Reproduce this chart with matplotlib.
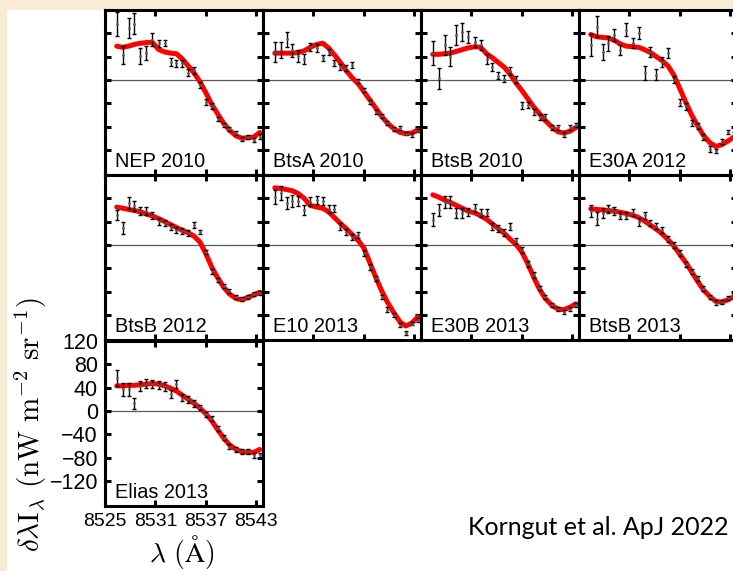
import numpy as np
import matplotlib
matplotlib.use("Agg")
import matplotlib.pyplot as plt
from matplotlib.patches import Rectangle

plt.rcParams['mathtext.fontset'] = 'cm'

# wavelength grid of the measured points (Angstrom)
wave = [8526.4, 8527.1, 8527.8, 8528.5, 8529.2, 8529.9, 8530.6, 8531.4, 8532.1,
        8532.8, 8533.5, 8534.2, 8534.9, 8535.6, 8536.3, 8537.0, 8537.7, 8538.4,
        8539.1, 8539.8, 8540.6, 8541.3, 8542.0, 8542.7, 8543.4]

names = ["NEP 2010", "BtsA 2010", "BtsB 2010", "E30A 2012",
         "BtsB 2012", "E10 2013", "E30B 2013", "BtsB 2013",
         "Elias 2013"]

# measured points (nW m^-2 sr^-1)
pts_nep10 = [96, 43, 89, 96, 41, 46, 69, 63, 63, 31, 29, 29, 12, 17, -9, -38, -45, -67, -77, -84, -91, -101, -98, -103, -97]
pts_btsa10 = [48, 51, 70, 51, 41, 36, 57, 55, 38, 48, 29, 22, 20, 26, -2, -17, -38, -55, -62, -74, -84, -82, -92, -94, -87]
pts_btsb10 = [46, 3, 60, 40, 77, 82, 74, 65, 60, 36, 22, 7, 2, 15, 0, -43, -43, -55, -63, -63, -81, -81, -94, -82, -77]
pts_e30a12 = [60, 91, 48, 63, 77, 51, 86, 63, 81, 12, 48, 9, 31, 46, 0, -39, -45, -74, -79, -98, -118, -122, -106, -89, -85]
pts_btsb12 = [51, 29, 72, 67, 58, 58, 50, 41, 38, 31, 26, 24, 21, 34, 22, -12, -45, -60, -70, -79, -89, -93, -89, -84, -82]
pts_e10_13 = [82, 89, 72, 75, 75, 60, 74, 77, 75, 62, 62, 31, 22, 14, 17, -14, -38, -57, -89, -111, -120, -137, -151, -135, -129]
pts_e30b13 = [43, 60, 74, 74, 55, 55, 57, 63, 55, 55, 31, 29, 22, 31, 7, -9, -33, -51, -74, -89, -103, -110, -115, -110, -103]
pts_btsb13 = [58, 45, 55, 62, 58, 50, 50, 55, 39, 51, 38, 33, 26, 10, 0, -14, -33, -46, -57, -75, -89, -99, -98, -91, -88]
pts_elias13 = [57, 37, 37, 13, 43, 47, 46, 44, 42, 29, 46, 23, 20, 13, 6, -6, -13, -30, -46, -61, -66, -69, -69, -76, -76]

# 1-sigma errors
err_nep10 = [20, 15, 17, 18, 13, 12, 11, 6, 5, 7, 6, 6, 6, 6, 5, 5, 5, 4, 4, 4, 4, 4, 4, 4, 4]
err_btsa10 = [17, 14, 13, 11, 11, 8, 7, 7, 5, 5, 5, 5, 5, 5, 4, 4, 4, 4, 4, 4, 3, 3, 3, 3, 3]
err_btsb10 = [20, 18, 17, 16, 17, 16, 10, 9, 8, 8, 7, 6, 6, 7, 6, 6, 5, 5, 5, 5, 4, 4, 4, 4, 4]
err_e30a12 = [19, 18, 14, 13, 10, 9, 11, 9, 10, 12, 9, 9, 9, 8, 6, 6, 6, 5, 5, 5, 5, 4, 4, 4, 4]
err_btsb12 = [9, 11, 10, 9, 7, 7, 6, 6, 5, 5, 5, 5, 5, 5, 4, 4, 4, 3, 3, 3, 3, 3, 3, 3, 3]
err_e10_13 = [12, 12, 11, 10, 9, 9, 8, 7, 7, 7, 6, 6, 5, 5, 5, 5, 5, 4, 4, 4, 4, 4, 3, 3, 3]
err_e30b13 = [11, 11, 10, 10, 8, 8, 7, 7, 7, 6, 6, 6, 6, 6, 5, 5, 5, 5, 4, 4, 4, 4, 4, 4, 4]
err_btsb13 = [10, 11, 8, 7, 7, 6, 6, 6, 7, 6, 5, 5, 5, 5, 5, 5, 4, 4, 4, 4, 4, 4, 4, 4, 4]
err_elias13 = [14, 11, 11, 9, 8, 8, 7, 7, 7, 7, 7, 6, 6, 6, 5, 5, 5, 5, 4, 4, 4, 4, 4, 4, 4]

# model fit (red curve)
fit_nep10 = [58, 56, 58, 61, 63, 64, 65, 52, 48, 46, 45, 36, 24, 12, -3, -22, -42, -58, -74, -86, -96, -100, -99, -98, -90]
fit_btsa10 = [46, 46, 46, 46, 47, 50, 56, 61, 63, 55, 43, 30, 16, 4, -6, -20, -34, -48, -62, -74, -84, -90, -92, -91, -86]
fit_btsb10 = [44, 44, 45, 46, 49, 52, 55, 57, 56, 45, 38, 30, 22, 10, -5, -18, -32, -46, -58, -70, -81, -89, -91, -88, -82]
fit_e30a12 = [78, 74, 73, 72, 68, 62, 58, 57, 56, 52, 47, 40, 33, 24, 8, -15, -38, -60, -78, -95, -108, -114, -111, -105, -98]
fit_btsb12 = [65, 63, 61, 59, 57, 53, 50, 45, 40, 35, 30, 25, 21, 15, 5, -15, -38, -56, -72, -84, -92, -94, -90, -86, -81]
fit_e10_13 = [98, 97, 95, 93, 88, 80, 68, 65, 63, 57, 47, 37, 28, 18, 8, -5, -30, -55, -78, -98, -117, -132, -139, -134, -124]
fit_e30b13 = [86, 82, 77, 73, 68, 63, 58, 55, 50, 44, 36, 28, 20, 10, 1, -12, -32, -55, -76, -92, -104, -110, -111, -107, -101]
fit_btsb13 = [62, 61, 60, 59, 58, 56, 54, 51, 47, 41, 34, 27, 19, 9, -2, -16, -30, -46, -62, -77, -89, -97, -98, -94, -89]
fit_elias13 = [43, 43, 44, 44, 45, 46, 47, 46, 43, 39, 34, 27, 20, 13, 5, -5, -17, -32, -46, -58, -66, -70, -71, -71, -66]

points = [pts_nep10, pts_btsa10, pts_btsb10, pts_e30a12, pts_btsb12,
          pts_e10_13, pts_e30b13, pts_btsb13, pts_elias13]
errors = [err_nep10, err_btsa10, err_btsb10, err_e30a12, err_btsb12,
          err_e10_13, err_e30b13, err_btsb13, err_elias13]
fits = [fit_nep10, fit_btsa10, fit_btsb10, fit_e30a12, fit_btsb12,
        fit_e10_13, fit_e30b13, fit_btsb13, fit_elias13]

yticks = [-120, -80, -40, 0, 40, 80, 120]
xticks = [8525, 8531, 8537, 8543]

W, H = 733, 571
fig = plt.figure(figsize=(W / 100, H / 100), dpi=100)
fig.patch.set_facecolor('white')
# slide background strips
fig.add_artist(Rectangle((0, 0), 6 / W, 1, transform=fig.transFigure, color='#f9ecd5', zorder=0))
fig.add_artist(Rectangle((0, 1 - 9 / H), 1, 9 / H, transform=fig.transFigure, color='#f9ecd5', zorder=0))

col_left = [105, 263, 421, 579]
row_top = [10, 175, 341]
pw, ph = 158, 165

for k, name in enumerate(names):
    r, c = divmod(k, 4)
    ax = fig.add_axes([col_left[c] / W, 1 - (row_top[r] + ph) / H, pw / W, ph / H])
    ax.axhline(0, color='0.35', lw=0.9, zorder=1)
    ax.plot(wave, fits[k], color='red', lw=3.6, solid_capstyle='round', zorder=2)
    ax.errorbar(wave, points[k], yerr=errors[k], fmt='.', ms=2, color='0.35',
                ecolor='black', elinewidth=1.0, capsize=1.7, capthick=1.0, zorder=3)
    ax.set_xlim(8525, 8543.8)
    ax.set_ylim(-163, 120)
    ax.set_xticks(xticks)
    ax.set_yticks(yticks)
    ax.text(0.063, 0.048, name, transform=ax.transAxes, fontsize=14.3,
            family='Liberation Sans', va='baseline')
    for sp in ax.spines.values():
        sp.set_linewidth(2.2)
    is_corner = (k == 8)
    ax.tick_params(direction='in', length=4, width=2.2, top=True, right=True,
                   labelbottom=is_corner, labelleft=is_corner, labelsize=14, pad=5)
    if is_corner:
        ax.set_yticklabels([f"\u2212{abs(v)}" if v < 0 else str(v) for v in yticks],
                           family='Liberation Sans', fontsize=15.5)
        ax.set_xticklabels([str(v) for v in xticks], family='Liberation Sans')

fig.text(31 / W, 1 - 425 / H, r'$\delta\lambda \mathrm{I}_\lambda\ (\mathrm{nW\ m^{-2}\ sr^{-1}})$',
         rotation=90, ha='center', va='center', fontsize=21)
fig.text(182 / W, 1 - 552 / H, r'$\lambda\ (\mathrm{\AA})$', ha='center', va='center', fontsize=20)
fig.text(468 / W, 1 - 535 / H, "Korngut et al. ApJ 2022", family='Lato', fontsize=18,
         va='baseline', ha='left')

fig.savefig('out.png', dpi=100)
